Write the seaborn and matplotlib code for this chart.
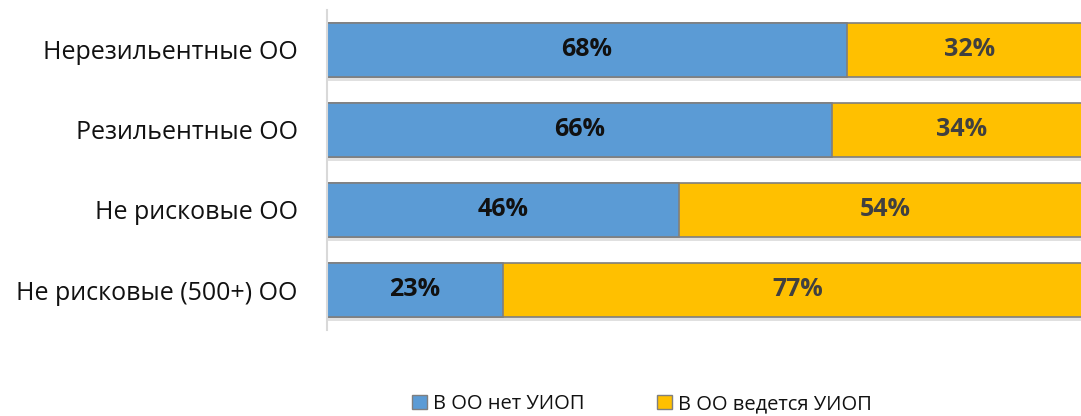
import matplotlib
matplotlib.use("Agg")
import matplotlib.pyplot as plt
import matplotlib.patheffects as pe
import seaborn as sns
import pandas as pd
from matplotlib.patches import Patch

categories = ["Нерезильентные ОО", "Резильентные ОО", "Не рисковые ОО", "Не рисковые (500+) ОО"]
no_uiop = [68, 66, 46, 23]
yes_uiop = [32, 34, 54, 77]
series_names = ["В ОО нет УИОП", "В ОО ведется УИОП"]

blue = "#5B9BD5"
orange = "#FFC000"
edge = "#7F7F7F"

sns.set_theme(style="white")
plt.rcParams['font.family'] = ['Open Sans', 'DejaVu Sans']

df = pd.DataFrame({"cat": categories, "no": no_uiop, "yes": yes_uiop})
df["total"] = df["no"] + df["yes"]

fig = plt.figure(figsize=(10.81, 4.16), dpi=100)
ax = fig.add_axes([327/1081, 1-330/416, 765/1081, 320/416])

sns.barplot(data=df, y="cat", x="total", orient="h", color=orange, saturation=1,
            edgecolor=edge, linewidth=1.2, width=0.68, ax=ax)
for p in ax.patches:
    p.set_path_effects([pe.SimplePatchShadow(offset=(0, -3), shadow_rgbFace="#9a9a9a", alpha=0.3),
                        pe.Normal()])
sns.barplot(data=df, y="cat", x="no", orient="h", color=blue, saturation=1,
            edgecolor=edge, linewidth=1.2, width=0.68, ax=ax)

for i, (n, y) in enumerate(zip(no_uiop, yes_uiop)):
    ax.text(n / 2, i, f"{n}%", ha="center", va="center", fontsize=18,
            fontweight="bold", color="#111111")
    ax.text(n + y / 2, i, f"{y}%", ha="center", va="center", fontsize=18,
            fontweight="bold", color="#404040")

ax.set_xlim(0, 100)
ax.set_ylim(3.5, -0.5)
ax.set_xlabel("")
ax.set_ylabel("")
ax.set_xticks([])
ax.tick_params(axis="y", labelsize=18, colors="#111111", length=0, pad=21)
for s in ["top", "right", "bottom"]:
    ax.spines[s].set_visible(False)
ax.spines["left"].set_color("#D9D9D9")
ax.spines["left"].set_linewidth(1.5)

handles = [Patch(facecolor=blue, edgecolor=edge, label=series_names[0]),
           Patch(facecolor=orange, edgecolor=edge, label=series_names[1])]
fig.legend(handles=handles, loc="center", bbox_to_anchor=(642/1081, 1-404/416),
           ncol=2, frameon=False, fontsize=14.5, handlelength=0.75, handleheight=0.75,
           handletextpad=0.3, columnspacing=3.6, labelcolor="#111111")

fig.savefig("out.png", dpi=100)
